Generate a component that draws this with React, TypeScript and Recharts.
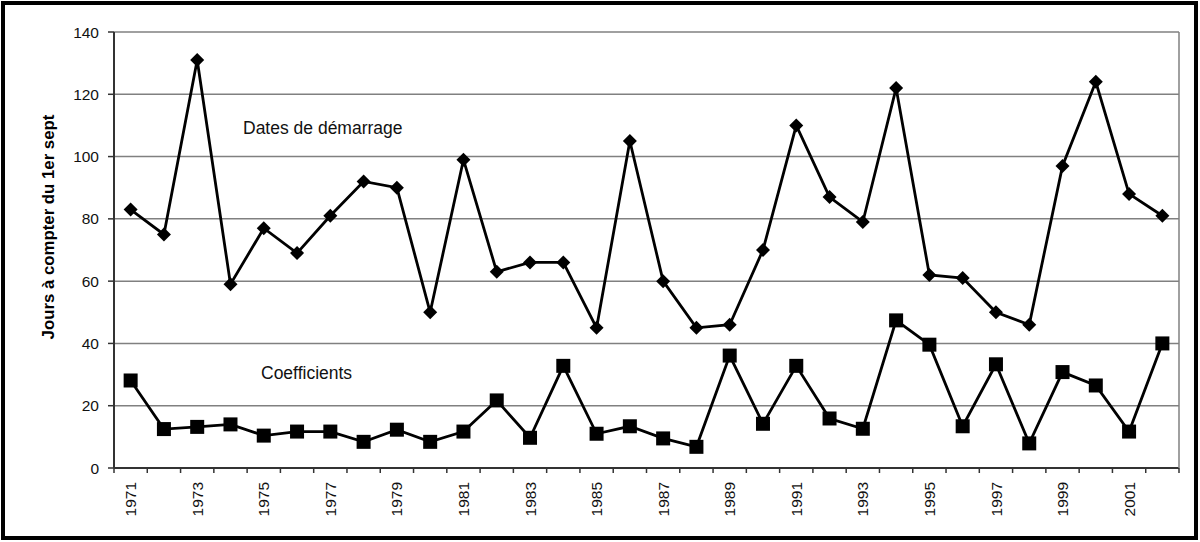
import React from "react";
import {
  LineChart,
  Line,
  XAxis,
  YAxis,
  CartesianGrid,
} from "recharts";

// Onset dates and coefficients, 1971-2002.
const years = [
  1971, 1972, 1973, 1974, 1975, 1976, 1977, 1978, 1979, 1980, 1981, 1982,
  1983, 1984, 1985, 1986, 1987, 1988, 1989, 1990, 1991, 1992, 1993, 1994,
  1995, 1996, 1997, 1998, 1999, 2000, 2001, 2002,
];
const datesDemarrage = [
  83, 75, 131, 59, 77, 69, 81, 92, 90, 50, 99, 63, 66, 66, 45, 105, 60, 45,
  46, 70, 110, 87, 79, 122, 62, 61, 50, 46, 97, 124, 88, 81,
];
const coefficients = [
  28.1, 12.5, 13.2, 14, 10.4, 11.7, 11.7, 8.4, 12.3, 8.4, 11.7, 21.7, 9.7,
  32.8, 11, 13.4, 9.5, 6.8, 36.1, 14.2, 32.8, 15.9, 12.6, 47.4, 39.6, 13.4,
  33.3, 7.9, 30.8, 26.5, 11.7, 40,
];
const yTicks = [0, 20, 40, 60, 80, 100, 120, 140];

const data = years.map((y, i) => ({
  year: y,
  dates: datesDemarrage[i],
  coef: coefficients[i],
}));

const W = 1200;
const H = 542;
const MARGIN = { top: 32, right: 21, bottom: 0, left: 0 };
const Y_AXIS_W = 114;
const X_AXIS_H = 74;
const PLOT_W = W - MARGIN.left - MARGIN.right - Y_AXIS_W;
const PLOT_H = H - MARGIN.top - MARGIN.bottom - X_AXIS_H;
const HALF_BAND = PLOT_W / years.length / 2;
const FONT = "'Liberation Sans', Arial, sans-serif";
const TEXT = "#111";

function Diamond(props: any) {
  const { cx, cy, index } = props;
  if (cx == null || cy == null) return null;
  const r = 7;
  return (
    <polygon
      key={`d-${index}`}
      points={`${cx},${cy - r} ${cx + r},${cy} ${cx},${cy + r} ${cx - r},${cy}`}
      fill="#000"
    />
  );
}

function Square(props: any) {
  const { cx, cy, index } = props;
  if (cx == null || cy == null) return null;
  const s = 14;
  return (
    <rect key={`s-${index}`} x={cx - s / 2} y={cy - s / 2} width={s} height={s} fill="#000" />
  );
}

// Tick marks sit between categories, labels on every other year.
function XTick(props: any) {
  const { x, y, payload, index } = props;
  const axisY = y - 5;
  const last = index === years.length - 1;
  return (
    <g>
      <line x1={x - HALF_BAND} x2={x - HALF_BAND} y1={axisY} y2={axisY + 5} stroke="#333" strokeWidth={1.5} />
      {last && (
        <line x1={x + HALF_BAND} x2={x + HALF_BAND} y1={axisY} y2={axisY + 5} stroke="#333" strokeWidth={1.5} />
      )}
      {index % 2 === 0 && (
        <text
          transform={`translate(${x},${y + 9}) rotate(-90)`}
          textAnchor="end"
          dy="0.36em"
          fontSize={15.5}
          fontFamily={FONT}
          fill={TEXT}
        >
          {payload.value}
        </text>
      )}
    </g>
  );
}

function YLabel(props: any) {
  const { viewBox } = props;
  const cx = 48;
  const cy = viewBox.y + viewBox.height / 2 - 23;
  return (
    <text
      transform={`translate(${cx},${cy}) rotate(-90)`}
      textAnchor="middle"
      dy="0.36em"
      fontSize={16.8}
      fontWeight="bold"
      fontFamily={FONT}
      fill="#000"
    >
      Jours à compter du 1er sept
    </text>
  );
}

export default function App() {
  const plotLeft = MARGIN.left + Y_AXIS_W;
  const plotRight = plotLeft + PLOT_W;
  return (
    <div style={{ position: "absolute", left: 0, top: 0, width: W, height: H, background: "#fff" }}>
      <LineChart width={W} height={H} data={data} margin={MARGIN}>
        <CartesianGrid vertical={false} stroke="#808080" strokeWidth={1.5} />
        <XAxis
          dataKey="year"
          scale="band"
          interval={0}
          height={X_AXIS_H}
          tickSize={5}
          tickMargin={0}
          tickLine={false}
          axisLine={{ stroke: "#333", strokeWidth: 2 }}
          tick={(p: any) => <XTick {...p} />}
        />
        <YAxis
          width={Y_AXIS_W}
          domain={[0, 140]}
          ticks={yTicks}
          interval={0}
          tickSize={6}
          tickMargin={9}
          axisLine={{ stroke: "#333", strokeWidth: 2 }}
          tickLine={{ stroke: "#333", strokeWidth: 1.5 }}
          tick={{ fontSize: 15.5, fontFamily: FONT, fill: TEXT }}
          label={{ content: (p: any) => <YLabel {...p} /> }}
        />
        <Line
          dataKey="dates"
          stroke="#000"
          strokeWidth={2.8}
          dot={(p: any) => <Diamond {...p} />}
          isAnimationActive={false}
        />
        <Line
          dataKey="coef"
          stroke="#000"
          strokeWidth={2.8}
          dot={(p: any) => <Square {...p} />}
          isAnimationActive={false}
        />
      </LineChart>
      <svg
        width={W}
        height={H}
        style={{ position: "absolute", left: 0, top: 0, pointerEvents: "none" }}
      >
        <line
          x1={plotRight}
          x2={plotRight}
          y1={MARGIN.top}
          y2={MARGIN.top + PLOT_H}
          stroke="#808080"
          strokeWidth={1.5}
        />
        <text x={243} y={134} fontSize={17.5} fontFamily={FONT} fill={TEXT}>
          Dates de démarrage
        </text>
        <text x={261} y={379} fontSize={17.5} fontFamily={FONT} fill={TEXT}>
          Coefficients
        </text>
      </svg>
      <div
        style={{
          position: "absolute",
          left: 1,
          top: 1,
          width: 1197,
          height: 539,
          border: "4px solid #000",
          boxSizing: "border-box",
        }}
      />
    </div>
  );
}
